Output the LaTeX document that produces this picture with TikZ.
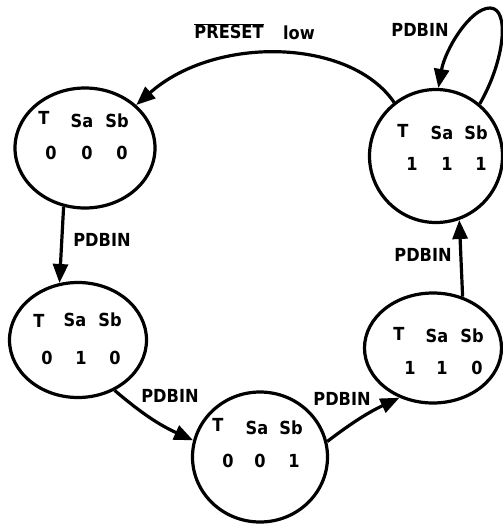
\documentclass[tikz,border=0pt]{standalone}
\usepackage{fontspec}
\setmainfont{DejaVu Sans}[BoldFeatures={FakeStretch=0.9}]
\usetikzlibrary{arrows.meta,shapes.geometric}

\tikzset{
  state/.style={draw, ellipse, line width=3.2pt, inner sep=0pt},
  lbl/.style={font=\bfseries\fontsize{18}{18}\selectfont, inner sep=0pt},
  tr/.style={draw, line width=3.2pt, -{Triangle[length=19pt,width=15pt]}},
}

\begin{document}
\begin{tikzpicture}[x=1pt, y=-1pt]
  \useasboundingbox (0,0) rectangle (503,525);

  % the five states
  \node[state, minimum width=140pt, minimum height=120pt] (s000) at (85,148) {};
  \node[state, minimum width=137pt, minimum height=115pt] (s010) at (78,340) {};
  \node[state, minimum width=135pt, minimum height=130pt] (s001) at (260,457) {};
  \node[state, minimum width=137pt, minimum height=110pt] (s110) at (433,348) {};
  \node[state, minimum width=133pt, minimum height=133pt] (s111) at (436,156) {};

  % state contents: T Sa Sb and their values
  \foreach \n/\tx/\ty/\ax/\bx/\hy/\da/\db/\dc/\xa/\xb/\xc/\dy in {
      a/44/118/82/117/121/0/0/0/51/87/122/153,
      b/39/321/75/110/320/0/1/0/47/81/115/358,
      c/218/425/257/291/428/0/0/1/228/260/294/461,
      d/399/334/437/472/336/1/1/0/410/442/477/368,
      e/403/131/442/476/133/1/1/1/412/447/481/164} {
    \node[lbl] (t\n) at (\tx,\ty) {T};
    \node[lbl] (sa\n) at (\ax,\hy) {Sa};
    \node[lbl] (sb\n) at (\bx,\hy) {Sb};
    \node[lbl] (va\n) at (\xa,\dy) {\da};
    \node[lbl] (vb\n) at (\xb,\dy) {\db};
    \node[lbl] (vc\n) at (\xc,\dy) {\dc};
  }

  % transitions
  \draw[tr] (s111.128) .. controls (350,38) and (215,35) .. (s000.40);
  \draw[tr] (s111.50) .. controls (505,60) and (510,8) .. (490,8)
                       .. controls (470,8) and (445,50) .. (s111.88);
  \draw[tr] (s000.-110) -- (s010.108);
  \draw[tr] (s010.-54) to[bend right=8] (s001.166);
  \draw[tr] (s001.13) to[bend left=6] (s110.-124);
  \draw[tr] (s110.60) -- (s111.-70);

  % transition labels
  \node[lbl] (lp) at (229,31) {$\overline{\hbox{PRESET}}$};
  \node[lbl] (ll) at (299,33) {low};
  \node[lbl] (l1) at (420,30) {PDBIN};
  \node[lbl] (l2) at (102,240) {PDBIN};
  \node[lbl] (l3) at (170,396) {PDBIN};
  \node[lbl] (l4) at (342,399) {PDBIN};
  \node[lbl] (l5) at (423,255) {PDBIN};
\end{tikzpicture}
\end{document}
